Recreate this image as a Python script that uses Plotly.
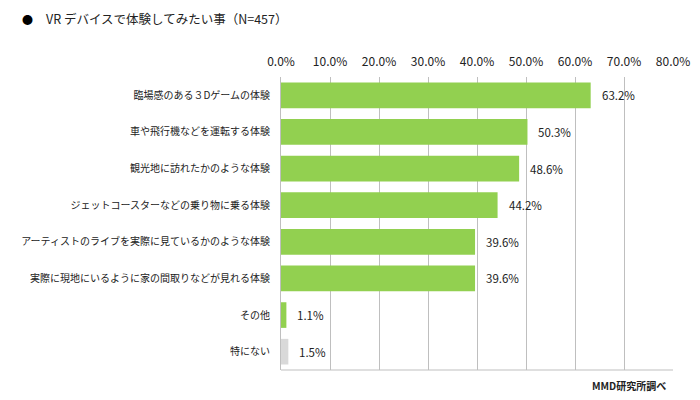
import plotly.graph_objects as go

categories = ["臨場感のある３Dゲームの体験", "車や飛行機などを運転する体験", "観光地に訪れたかのような体験",
              "ジェットコースターなどの乗り物に乗る体験", "アーティストのライブを実際に見ているかのような体験",
              "実際に現地にいるように家の間取りなどが見れる体験", "その他", "特にない"]
values = [63.2, 50.3, 48.6, 44.2, 39.6, 39.6, 1.1, 1.5]
colors = ["#92D050"] * 7 + ["#D9D9D9"]
tick_vals = [0, 10, 20, 30, 40, 50, 60, 70, 80]
tick_text = ["0.0%", "10.0%", "20.0%", "30.0%", "40.0%", "50.0%", "60.0%", "70.0%", "80.0%"]

font = "Noto Sans CJK JP, sans-serif"

fig = go.Figure(go.Bar(
    x=values, y=categories, orientation="h",
    marker=dict(color=colors, line=dict(width=0)),
    width=0.7, hoverinfo="skip",
))

for c, v in zip(categories, values):
    fig.add_annotation(x=v, y=c, xref="x", yref="y", text=f"{v:.1f}%",
                       showarrow=False, xanchor="left", xshift=9,
                       font=dict(family=font, size=11.5, color="#222"))

fig.add_shape(type="line", xref="x", yref="paper", x0=0, x1=80, y0=0, y1=0,
              line=dict(color="#BFBFBF", width=1))

fig.add_annotation(x=20, y=19, xref="paper", yref="paper", xanchor="left", yanchor="middle",
                   text="●", showarrow=False, font=dict(family=font, size=11, color="#000"))
fig.add_annotation(x=44, y=19, xref="paper", yref="paper", xanchor="left", yanchor="middle",
                   text="VR デバイスで体験してみたい事（N=457）", showarrow=False,
                   font=dict(family=font, size=12.5, color="#222"))
fig.add_annotation(x=668, y=385, xref="paper", yref="paper", xanchor="right", yanchor="middle",
                   text="<b>MMD研究所調べ</b>", showarrow=False,
                   font=dict(family=font, size=10, color="#222"))

# convert pixel annotations to paper coords
W, H = 700, 400
L, R, T, B = 281, 27, 77, 30
pw, ph = W - L - R, H - T - B
for a in fig.layout.annotations:
    if a.xref == "paper":
        a.x = (a.x - L) / pw
        a.y = 1 - (a.y - T) / ph

fig.update_layout(
    width=W, height=H,
    margin=dict(l=L, r=R, t=T, b=B, autoexpand=False),
    paper_bgcolor="white", plot_bgcolor="white",
    showlegend=False, bargap=0.3,
    font=dict(family=font, size=11, color="#222"),
    xaxis=dict(range=[0, 80], side="top", tickvals=tick_vals, ticktext=tick_text,
               showgrid=True, gridcolor="#BFBFBF", gridwidth=1, zeroline=False,
               showline=False, automargin=False, ticklabelstandoff=8,
               ticks="", ticklen=0, tickfont=dict(size=12, color="#222"), fixedrange=True),
    yaxis=dict(autorange="reversed", showline=True, linecolor="#BFBFBF", linewidth=1,
               automargin=False,
               ticks="", ticklabelstandoff=8, tickfont=dict(size=10, color="#222"), fixedrange=True),
)

fig.write_html("out.html")
